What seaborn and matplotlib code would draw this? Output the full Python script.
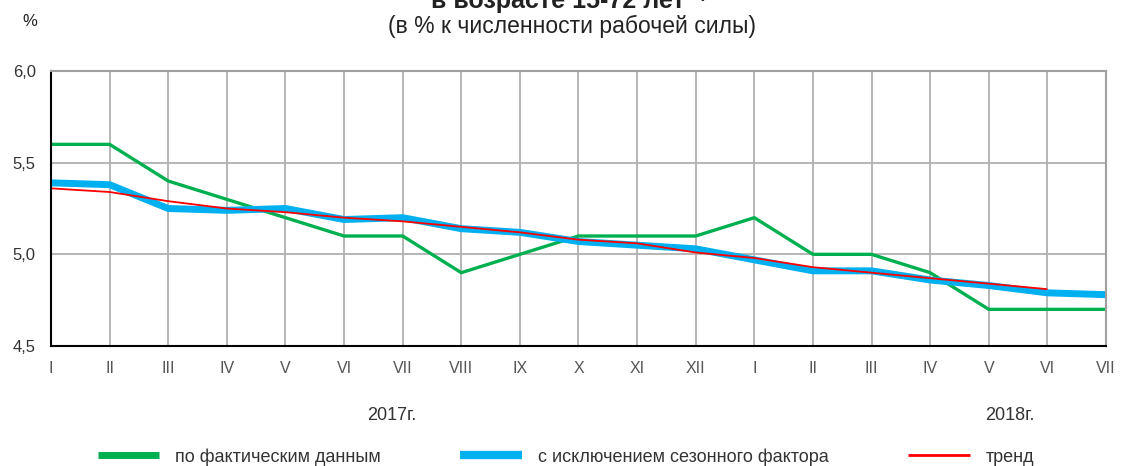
import numpy as np
import pandas as pd
import matplotlib
matplotlib.use("Agg")
import matplotlib.pyplot as plt
import seaborn as sns

# данные (уровень безработицы, %)
months = ["I", "II", "III", "IV", "V", "VI", "VII", "VIII", "IX", "X", "XI", "XII",
          "I", "II", "III", "IV", "V", "VI", "VII"]
actual = [5.6, 5.6, 5.4, 5.3, 5.2, 5.1, 5.1, 4.9, 5.0, 5.1, 5.1, 5.1,
          5.2, 5.0, 5.0, 4.9, 4.7, 4.7, 4.7]
seasonal_adj = [5.39, 5.38, 5.25, 5.24, 5.25, 5.19, 5.20, 5.14, 5.12, 5.07, 5.05, 5.03,
                4.97, 4.91, 4.91, 4.86, 4.83, 4.79, 4.78]
trend = [5.36, 5.34, 5.29, 5.25, 5.23, 5.20, 5.18, 5.15, 5.12, 5.08, 5.06, 5.01,
         4.98, 4.93, 4.90, 4.87, 4.84, 4.81, np.nan]

labels = ["по фактическим данным", "с исключением сезонного фактора", "тренд"]
colors = ["#00b050", "#00b0f0", "#ff0000"]
widths = [2.4, 5.0, 1.3]

x = np.arange(len(months))
df = pd.DataFrame({"x": x, labels[0]: actual, labels[1]: seasonal_adj, labels[2]: trend})

sns.set_style("white")
plt.rcParams["font.family"] = ["Liberation Sans", "DejaVu Sans"]

fig = plt.figure(figsize=(11.21, 4.66), dpi=100)
ax = fig.add_axes([0.0455, 0.2575, 0.9411, 0.5901])

for lab, c, w in zip(labels, colors, widths):
    sns.lineplot(data=df, x="x", y=lab, color=c, linewidth=w, label=lab, ax=ax,
                 solid_capstyle="butt")

ax.set_xlim(0, len(months) - 1)
ax.set_ylim(4.5, 6.0)
ax.set_yticks([4.5, 5.0, 5.5, 6.0])
ax.set_yticklabels(["4,5", "5,0", "5,5", "6,0"], fontsize=12, color="#333333")
ax.set_xticks(x)
ax.set_xticklabels(months, fontsize=11.5, color="#555555")
ax.set_xlabel("")
ax.set_ylabel("")
ax.grid(True, color="#b0b0b0", linewidth=1.3)
ax.set_axisbelow(True)
ax.tick_params(axis="both", direction="out", length=5, width=1.2, color="black", pad=6)

for side in ["top", "right"]:
    ax.spines[side].set_color("#a0a0a0")
    ax.spines[side].set_linewidth(1.5)
for side in ["left", "bottom"]:
    ax.spines[side].set_color("black")
    ax.spines[side].set_linewidth(1.5)

# подписи годов
fig.text(392 / 1121, 1 - 415 / 466, "2017г.", ha="center", va="center", fontsize=13, color="#333333")
fig.text(1010 / 1121, 1 - 415 / 466, "2018г.", ha="center", va="center", fontsize=13, color="#333333")

# заголовок (обрезан сверху, как в оригинале)
fig.text(569 / 1121, 1 - 8 / 466, "в возрасте 15-72 лет ¹⁾", ha="center", va="baseline",
         fontsize=18, fontweight="bold", color="#222222")
fig.text(572 / 1121, 1 - 26 / 466, "(в % к численности рабочей силы)", ha="center", va="center",
         fontsize=16.5, color="#222222")
fig.text(30 / 1121, 1 - 22 / 466, "%", ha="center", va="center", fontsize=12, color="#222222")

leg = ax.legend(loc="center", bbox_to_anchor=(566 / 1121, 1 - 457 / 466),
                bbox_transform=fig.transFigure, ncol=3, frameon=False, borderpad=0,
                fontsize=13, handlelength=3.4, columnspacing=4.4, handletextpad=0.9)
for text in leg.get_texts():
    text.set_color("#333333")
for line, w in zip(leg.get_lines(), [5, 6, 2]):
    line.set_linewidth(w)

fig.savefig("out.png", dpi=100)
